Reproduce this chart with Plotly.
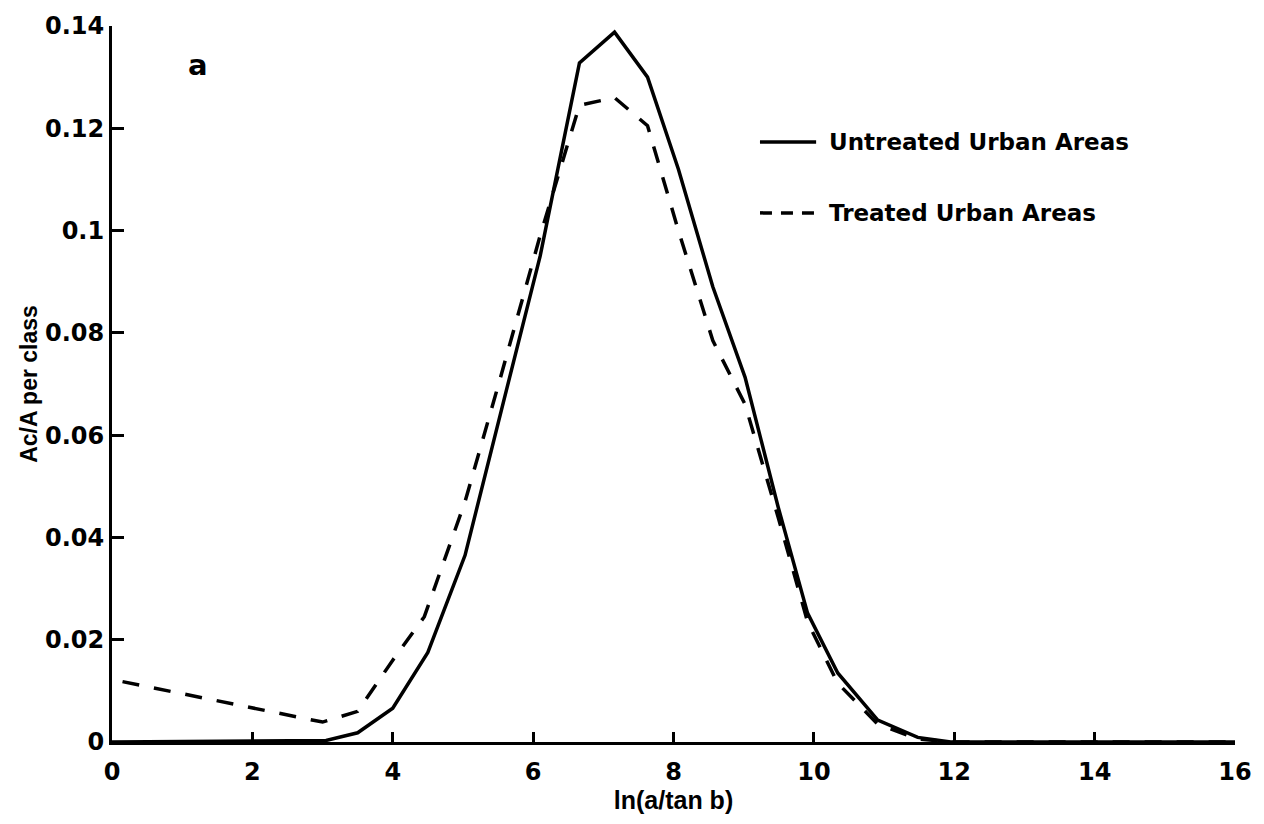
import plotly.graph_objects as go

# Data
untreated_x = [0.0, 3.05, 3.5, 4.0, 4.5, 5.03, 5.55, 6.1, 6.66, 7.16, 7.63, 8.07, 8.56, 9.02, 9.49, 9.91, 10.34, 10.91, 11.48, 11.95, 16.0]
untreated_y = [0.0, 0.0003, 0.0018, 0.0066, 0.0175, 0.0365, 0.065, 0.095, 0.1328, 0.1388, 0.130, 0.112, 0.089, 0.0713, 0.046, 0.0252, 0.0135, 0.0043, 0.0009, 0.0, 0.0]

treated_x = [0.15, 3.0, 3.5, 4.0, 4.45, 5.03, 5.55, 6.1, 6.66, 7.16, 7.63, 8.07, 8.56, 9.02, 9.49, 9.91, 10.34, 10.91, 11.48, 11.95, 16.0]
treated_y = [0.0118, 0.0039, 0.006, 0.016, 0.0245, 0.047, 0.072, 0.099, 0.1245, 0.126, 0.1205, 0.100, 0.0785, 0.066, 0.044, 0.0235, 0.0115, 0.0035, 0.0006, 0.0, 0.0]

x_ticks = [0, 2, 4, 6, 8, 10, 12, 14, 16]
y_ticks = [0, 0.02, 0.04, 0.06, 0.08, 0.1, 0.12, 0.14]
y_tick_text = ["0", "0.02", "0.04", "0.06", "0.08", "0.1", "0.12", "0.14"]

legend_names = ["Untreated Urban Areas", "Treated Urban Areas"]
panel_label = "a"

TICK_FONT = dict(family="DejaVu Sans", size=24, color="black", weight="bold")
TITLE_FONT = dict(family="Liberation Sans", size=23, color="black", weight="bold")

fig = go.Figure()
fig.add_trace(go.Scatter(x=untreated_x, y=untreated_y, mode="lines",
                         line=dict(color="black", width=3.5), name=legend_names[0],
                         showlegend=False))
fig.add_trace(go.Scatter(x=treated_x, y=treated_y, mode="lines",
                         line=dict(color="black", width=3.5, dash="17px,15px"),
                         name=legend_names[1], showlegend=False))

# Legend drawn manually (line samples + labels)
leg_rows = [0.838, 0.739]
leg_dash = ["solid", "12px,9px"]
for name, yy, dsh in zip(legend_names, leg_rows, leg_dash):
    fig.add_shape(type="line", xref="paper", yref="paper",
                  x0=0.577, x1=0.627, y0=yy, y1=yy,
                  line=dict(color="black", width=3.5, dash=dsh))
    fig.add_annotation(xref="paper", yref="paper", x=0.637, y=yy,
                       text=name, showarrow=False, xanchor="left", yanchor="middle",
                       font=dict(family="DejaVu Sans", size=23, color="black", weight="bold"))

fig.add_annotation(x=1.22, y=0.1324, text=panel_label, showarrow=False,
                   font=dict(family="DejaVu Sans", size=29, color="black", weight="bold"))

fig.update_layout(
    width=1264, height=824,
    margin=dict(l=112, r=26, t=25, b=82),
    paper_bgcolor="white", plot_bgcolor="white",
    showlegend=False,
)
fig.update_xaxes(range=[0, 16], tickvals=x_ticks, ticks="inside", ticklen=10, tickwidth=2.5,
                 tickcolor="black", showline=True, linewidth=3, linecolor="black",
                 showgrid=False, zeroline=False, tickfont=TICK_FONT, ticklabelstandoff=6,
                 title=dict(text="ln(a/tan b)", font=dict(family="Liberation Sans", size=25,
                                                         color="black", weight="bold"), standoff=0))
fig.update_yaxes(range=[0, 0.14], tickvals=y_ticks, ticktext=y_tick_text, ticks="inside",
                 ticklen=12, tickwidth=2.5, tickcolor="black", showline=True, linewidth=3,
                 linecolor="black", showgrid=False, zeroline=False, tickfont=TICK_FONT,
                 ticklabelstandoff=0,
                 title=dict(text="Ac/A per class", font=TITLE_FONT, standoff=1))

fig.write_html("out.html")
